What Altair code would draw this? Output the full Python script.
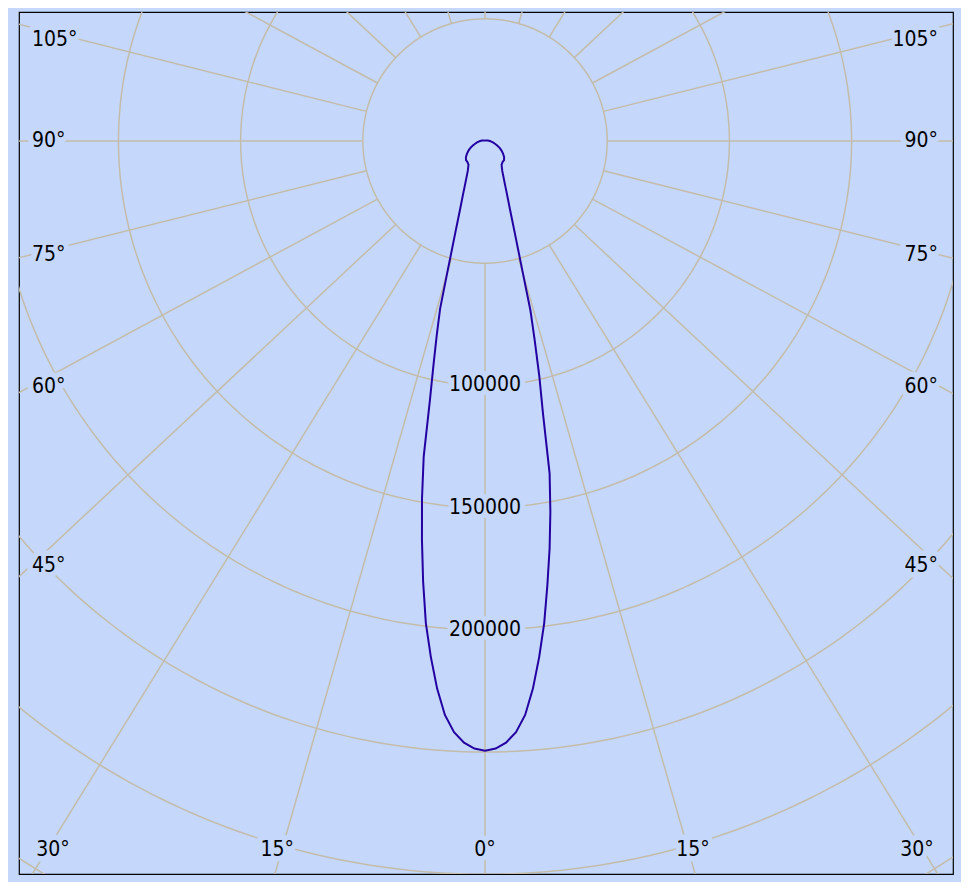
import math
import pandas as pd
import altair as alt

# ---- data (luminous intensity, cd) ----
angles = [0, 1, 2, 3, 4, 5, 6, 7, 8, 9, 10, 11, 12, 13, 14, 15, 16, 17, 18, 20,
          22.5, 25, 30, 35, 40, 45, 50, 55, 60, 65, 70, 75, 80, 85, 90,
          100, 110, 120, 135, 150, 165, 180]
intensity_right = [249500, 248600, 246300, 242200, 235400, 224900, 212200, 198700,
                   183400, 168900, 154000, 138500, 114200, 98800, 84000, 71900,
                   56200, 46100, 39200, 30000, 23400, 19100, 14100, 11800, 11200,
                   11000, 10200, 9000, 7800, 6600, 5300, 4200, 3300, 2600, 2000,
                   1200, 700, 400, 200, 100, 50, 0]
intensity_left = [249500, 248600, 246300, 242200, 235400, 224900, 212200, 198700,
                  182000, 165000, 148500, 131500, 108500, 93500, 81500, 71000,
                  56200, 46100, 39200, 30000, 23400, 19100, 14100, 11800, 11200,
                  11000, 10200, 9000, 7800, 6600, 5300, 4200, 3300, 2600, 2000,
                  1200, 700, 400, 200, 100, 50, 0]

ring_values = [50000, 100000, 150000, 200000, 250000, 300000, 350000]
ring_label_values = [100000, 150000, 200000]
spoke_angles = list(range(0, 360, 15))
angle_label_values = [0, 15, 30, 45, 60, 75, 90, 105]

# ---- styling / geometry ----
BG = "#C5D8FB"
GRID = "#C4BCAA"
CURVE = "#2200A2"
FONT = "DejaVu Sans Condensed, DejaVu Sans, sans-serif"
FS = 21
STRETCH = 1.07          # spokes are drawn slightly widened horizontally
X_DOM = [-190700, 191500]
Y_DOM = [-299900, 52800]
PX = 409.2              # cd per pixel
SIDE_HIT = 455 * PX     # where side labels meet their spoke
BOTTOM_HIT = 725 * PX   # where bottom labels meet their spoke
BOTTOM_Y = -709 * PX
BOTTOM_XMAX = 432 * PX
SIDE_X = 453 * PX
TOP_LIMIT = Y_DOM[1] - 28 * PX

# curve
rows = []
k = 0
for a, v in zip(reversed(angles), reversed(intensity_left)):
    t = math.radians(a)
    rows.append({"x": -v * math.sin(t), "y": -v * math.cos(t), "k": k})
    k += 1
for a, v in zip(angles[1:], intensity_right[1:]):
    t = math.radians(a)
    rows.append({"x": v * math.sin(t), "y": -v * math.cos(t), "k": k})
    k += 1
curve_df = pd.DataFrame(rows)

# rings
ring_rows = []
for v in ring_values:
    for d in range(0, 361):
        t = math.radians(d)
        ring_rows.append({"ring": v, "k": d, "x": v * math.sin(t), "y": v * math.cos(t)})
ring_df = pd.DataFrame(ring_rows)

# spokes
spoke_rows = []
for a in spoke_angles:
    t = math.radians(a)
    dx, dy = STRETCH * math.sin(t), -math.cos(t)
    n = math.hypot(dx, dy)
    dx, dy = dx / n, dy / n
    spoke_rows.append({"x": ring_values[0] * dx, "y": ring_values[0] * dy,
                       "x2": 2e6 * dx, "y2": 2e6 * dy})
spoke_df = pd.DataFrame(spoke_rows)

# angle labels
lab_rows = []
for a in angle_label_values:
    for side in ([1] if a == 0 else [-1, 1]):
        t = math.radians(a)
        dx, dy = side * STRETCH * math.sin(t), -math.cos(t)
        bottom_s = BOTTOM_HIT / abs(dy) if dy < -1e-9 else float("inf")
        side_s = SIDE_HIT / abs(dx) if abs(dx) > 1e-9 else float("inf")
        if bottom_s * abs(dx) <= SIDE_HIT and bottom_s < side_s:
            x = max(-BOTTOM_XMAX, min(BOTTOM_XMAX, bottom_s * dx))
            lab_rows.append({"x": x, "y": BOTTOM_Y, "text": f"{a}°", "pos": "center"})
        else:
            y = min(side_s * dy, TOP_LIMIT)
            lab_rows.append({"x": side * SIDE_X, "y": y, "text": f"{a}°",
                             "pos": "left" if side < 0 else "right"})
for v in ring_label_values:
    lab_rows.append({"x": 0.0, "y": -float(v), "text": str(v), "pos": "center"})
label_df = pd.DataFrame(lab_rows)

xenc = alt.X("x:Q", scale=alt.Scale(domain=X_DOM, nice=False, zero=False), axis=None)
yenc = alt.Y("y:Q", scale=alt.Scale(domain=Y_DOM, nice=False, zero=False), axis=None)

rings = alt.Chart(ring_df).mark_line(clip=True, color=GRID, strokeWidth=1.5).encode(
    x=xenc, y=yenc, detail="ring:N", order="k:Q")
spokes = alt.Chart(spoke_df).mark_rule(clip=True, color=GRID, strokeWidth=1.5).encode(
    x=xenc, y=yenc, x2="x2:Q", y2="y2:Q")

text_layers = []
for pos in ["left", "right", "center"]:
    base = alt.Chart(label_df).transform_filter(alt.datum.pos == pos)
    text_layers.append(base.mark_text(
        font=FONT, fontSize=FS, color=BG, stroke=BG, strokeWidth=11, strokeJoin="round",
        align=pos, baseline="middle").encode(x=xenc, y=yenc, text="text:N"))
for pos in ["left", "right", "center"]:
    base = alt.Chart(label_df).transform_filter(alt.datum.pos == pos)
    text_layers.append(base.mark_text(
        font=FONT, fontSize=FS, color="black", align=pos, baseline="middle").encode(
        x=xenc, y=yenc, text="text:N"))

curve = alt.Chart(curve_df).mark_line(clip=True, color=CURVE, strokeWidth=2).encode(
    x=xenc, y=yenc, order="k:Q")

chart = alt.layer(rings, spokes, *text_layers, curve).properties(
    width=934, height=862, background=BG,
    padding={"left": 11, "top": 4, "right": 8, "bottom": 8},
    autosize=alt.AutoSizeParams(type="none"),
).configure_view(fill=BG, stroke="black", strokeWidth=1.2)

chart.save("out.html", embed_options={"renderer": "svg", "actions": False})
